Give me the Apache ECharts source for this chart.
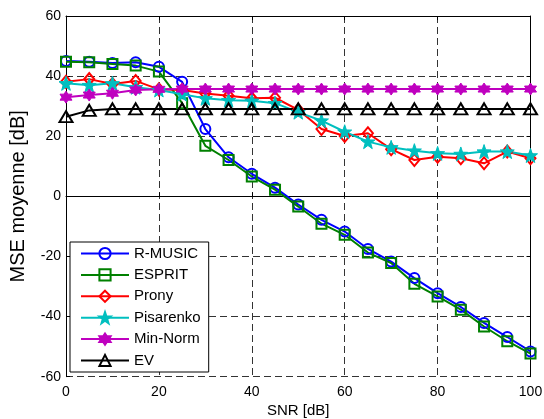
<!DOCTYPE html>
<html>
<head>
<meta charset="utf-8">
<script src="https://cdn.jsdelivr.net/npm/echarts@6/dist/echarts.min.js"></script>
<style>
html,body{margin:0;padding:0;background:#fff;}
#chart{width:544px;height:419px;}
</style>
</head>
<body>
<div id="chart"></div>
<script>
// ---- data ----
const snr = [0,5,10,15,20,25,30,35,40,45,50,55,60,65,70,75,80,85,90,95,100];
const rmusic = [45.0,44.8,44.4,44.6,43.1,38.1,22.4,13.0,7.5,2.9,-2.7,-7.8,-11.7,-17.5,-21.7,-27.2,-32.2,-36.8,-42.1,-46.8,-51.6];
const esprit = [44.8,44.6,44.0,43.5,41.5,31.0,16.8,12.1,6.6,2.2,-3.4,-9.1,-12.8,-18.7,-22.2,-29.1,-33.3,-37.7,-43.3,-48.2,-52.3];
const prony = [38.1,39.0,37.4,38.4,35.6,35.4,34.2,33.5,32.6,32.8,28.8,22.4,20.1,21.0,15.7,12.1,13.2,12.7,11.0,14.9,12.7];
const pisarenko = [37.6,37.0,37.6,36.3,35.4,34.0,32.6,32.0,31.8,31.0,28.0,25.2,21.5,18.2,16.3,15.2,14.3,14.1,14.9,14.9,13.6];
const minnorm = [33.0,33.7,34.3,35.4,35.6,35.7,35.7,35.7,35.7,35.7,35.7,35.7,35.7,35.7,35.7,35.7,35.7,35.7,35.7,35.7,35.7];
const ev = [26.5,28.6,29.1,29.1,29.1,29.1,29.1,29.1,29.1,29.1,29.1,29.1,29.1,29.1,29.1,29.1,29.1,29.1,29.1,29.1,29.1];
const seriesNames = ['R-MUSIC','ESPRIT','Prony','Pisarenko','Min-Norm','EV'];
const xTicks = [0,20,40,60,80,100];
const yTicks = [-60,-40,-20,0,20,40,60];

// ---- marker shapes ----
function starPath(n, rOut, rIn, rot) {
  const pts = [];
  for (let i = 0; i < 2 * n; i++) {
    const r = i % 2 === 0 ? rOut : rIn;
    const a = rot + i * Math.PI / n;
    pts.push([(50 + r * Math.sin(a)).toFixed(2), (50 - r * Math.cos(a)).toFixed(2)]);
  }
  return 'path://M' + pts.map(p => p.join(',')).join('L') + 'Z';
}
const pentagram = starPath(5, 50, 20, 0);
const hexagram = starPath(6, 50, 29, 0);

const FONT = 'Liberation Sans, Arial, Helvetica, sans-serif';
const pairs = arr => snr.map((x, i) => [x, arr[i]]);

function mk(name, data, color, symbol, size, filled) {
  return {
    name: name,
    type: 'line',
    data: pairs(data),
    symbol: symbol,
    symbolSize: size,
    showAllSymbol: true,
    animation: false,
    color: color,
    lineStyle: {color: color, width: 2},
    itemStyle: filled
      ? {color: color, borderColor: color, borderWidth: 1}
      : {color: 'rgba(255,255,255,0)', borderColor: color, borderWidth: 2},
    emphasis: {disabled: true}
  };
}

const chart = echarts.init(document.getElementById('chart'), null, {renderer: 'canvas'});
const dash = {type: [7, 4], color: '#333', width: 1};
chart.setOption({
  backgroundColor: '#fff',
  animation: false,
  grid: {left: 66, right: 13.5, top: 16, bottom: 42.3, containLabel: false, outerBoundsMode: 'none'},
  xAxis: [{
    type: 'value', min: 0, max: 100, interval: 20,
    name: 'SNR [dB]', nameLocation: 'middle', nameGap: 25,
    nameTextStyle: {fontFamily: FONT, fontSize: 15, color: '#000'},
    axisLine: {show: true, lineStyle: {color: '#000', width: 1}},
    axisTick: {show: true, inside: true, length: 4, lineStyle: {color: '#000'}},
    axisLabel: {fontFamily: FONT, fontSize: 14, color: '#000', margin: 8,
      formatter: v => xTicks.includes(v) ? String(v) : ''},
    splitLine: {show: true, lineStyle: dash}
  }, {
    type: 'value', min: 0, max: 100, interval: 20, position: 'top',
    axisLine: {show: true, onZero: false, lineStyle: {color: '#000', width: 1}},
    axisTick: {show: true, inside: true, length: 4, lineStyle: {color: '#000'}},
    axisLabel: {show: false}, splitLine: {show: false}
  }],
  yAxis: [{
    type: 'value', min: -60, max: 60, interval: 20,
    name: 'MSE moyenne [dB]', nameLocation: 'middle', nameGap: 38, nameRotate: 90,
    nameTextStyle: {fontFamily: FONT, fontSize: 20, color: '#000'},
    axisLine: {show: true, onZero: false, lineStyle: {color: '#000', width: 1}},
    axisTick: {show: true, inside: true, length: 4, lineStyle: {color: '#000'}},
    axisLabel: {fontFamily: FONT, fontSize: 14, color: '#000', margin: 5,
      formatter: v => yTicks.includes(v) ? String(v) : ''},
    splitLine: {show: true, lineStyle: dash}
  }, {
    type: 'value', min: -60, max: 60, interval: 20, position: 'right',
    axisLine: {show: true, onZero: false, lineStyle: {color: '#000', width: 1}},
    axisTick: {show: true, inside: true, length: 4, lineStyle: {color: '#000'}},
    axisLabel: {show: false}, splitLine: {show: false}
  }],
  legend: {
    orient: 'vertical',
    left: 70, top: 242,
    padding: [3.5, 8, 3.5, 10],
    backgroundColor: '#fff',
    borderColor: '#000', borderWidth: 1, borderRadius: 0,
    itemWidth: 48, itemHeight: 14, itemGap: 5.4,
    textStyle: {fontFamily: FONT, fontSize: 15, color: '#000', lineHeight: 16},
    data: seriesNames,
    selectedMode: false
  },
  series: [
    mk(seriesNames[0], rmusic, '#0000ff', 'circle', 10, false),
    mk(seriesNames[1], esprit, '#008000', 'rect', 10, false),
    mk(seriesNames[2], prony, '#ff0000', 'diamond', [10, 12], false),
    mk(seriesNames[3], pisarenko, '#00bfbf', pentagram, 14, true),
    mk(seriesNames[4], minnorm, '#bf00bf', hexagram, 12, true),
    mk(seriesNames[5], ev, '#000000', 'triangle', [13, 11], false)
  ]
});
</script>
</body>
</html>
